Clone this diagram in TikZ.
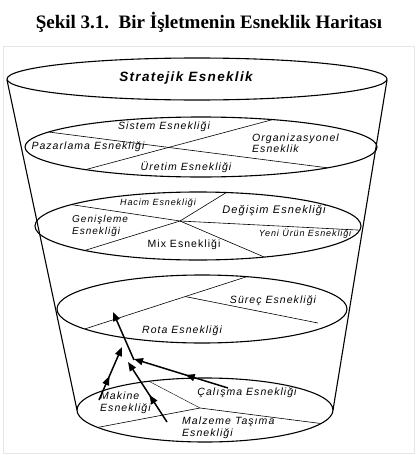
\documentclass[tikz,border=0pt]{standalone}
\usepackage{fontspec}
\setmainfont{Liberation Serif}
\newfontfamily\lblfont[LetterSpace=10]{Liberation Sans}
\usetikzlibrary{calc,arrows.meta,decorations.markings}

\tikzset{
  rim/.style={line width=1.1pt},
  cut/.style={line width=0.6pt},
  lbl/.style={font=\lblfont\itshape\fontsize{10.5}{11.5}\selectfont, inner sep=0pt},
  small/.style={lbl, font=\lblfont\itshape\fontsize{9}{10}\selectfont},
  flow/.style={line width=1.5pt, -{Triangle[length=9pt,width=7pt]}},
  midflow/.style={postaction={decorate}, decoration={markings,
      mark=at position #1 with {\arrow{Triangle[length=9pt,width=7pt]}}}}
}

\begin{document}
\begin{tikzpicture}[x=1pt,y=-1pt]
\useasboundingbox (0,0) rectangle (418,455);
\draw[black!10] (3,46) rectangle (414,453);

\node[font=\bfseries\fontsize{19}{21}\selectfont] (title) at (209,22) {Şekil 3.1.\ \ Bir İşletmenin Esneklik Haritası};

% levels of the cup
\coordinate (e1) at (197,79);
\coordinate (e2) at (201,147);
\coordinate (e3) at (198,226);
\coordinate (e4) at (202,309);
\coordinate (e5) at (205,410);

\draw[rim] (e1) ellipse [x radius=190pt, y radius=21pt];
\draw[rim] (e2) ellipse [x radius=176pt, y radius=30pt];
\draw[rim] (e3) ellipse [x radius=163pt, y radius=34pt];
\draw[rim] (e4) ellipse [x radius=145pt, y radius=34pt];
\draw[rim] (e5) ellipse [x radius=128pt, y radius=32pt];

% sides
\draw[rim] (7,80) -- (77,410);
\draw[rim] (387,80) -- (333,410);

% level 2
\draw[cut] ($(e2)+(150:176pt and 30pt)$) -- ($(e2)+(-44:176pt and 30pt)$);
\draw[cut] ($(e2)+(66:176pt and 30pt)$) -- ($(e2)+(-131:176pt and 30pt)$);

% level 3
\coordinate (x3) at (180,221);
\draw[cut] ($(e3)+(141:163pt and 34pt)$) -- (x3) -- ($(e3)+(-7:163pt and 34pt)$);
\draw[cut] ($(e3)+(80:163pt and 34pt)$) -- (x3) -- ($(e3)+(-134:163pt and 34pt)$);
\draw[cut] (x3) -- ($(e3)+(-66:163pt and 34pt)$);

% level 4
\coordinate (a4) at ($(e4)+(-144:145pt and 34pt)$);
\coordinate (b4) at ($(e4)+(72:145pt and 34pt)$);
\draw[cut] (a4) -- (b4);
\draw[cut] ($(a4)!0.62!(b4)$) -- (318,323);

% level 5
\coordinate (x5) at (200,408);
\draw[cut] ($(e5)+(-147:128pt and 32pt)$) -- (x5) -- ($(e5)+(-25:128pt and 32pt)$);
\draw[line width=0.4pt] (x5) -- ($(e5)+(116:128pt and 32pt)$);

% labels
\node[lbl, font=\lblfont\itshape\bfseries\fontsize{13.5}{15}\selectfont] (strat) at (186,78) {Stratejik Esneklik};
\node[lbl] (sistem) at (164,127) {Sistem Esnekliği};
\node[lbl] (pazar) at (88,147) {Pazarlama Esnekliği};
\node[lbl, anchor=west, align=left] (org) at (252,143) {Organizasyonel\\Esneklik};
\node[lbl] (uretim) at (186,167) {Üretim Esnekliği};

\node[small] (hacim) at (158,203) {Hacim Esnekliği};
\node[lbl, font=\lblfont\itshape\fontsize{11}{12}\selectfont] (degisim) at (274,211) {Değişim Esnekliği};
\node[lbl, font=\lblfont\itshape\fontsize{10}{11.5}\selectfont, anchor=west, align=left] (genis) at (72,226) {Genişleme\\Esnekliği};
\node[small] (yeni) at (305,234) {Yeni Ürün Esnekliği};
\node[lbl, font=\lblfont\fontsize{10.5}{11.5}\selectfont] (mix) at (184,245) {Mix Esnekliği};

\node[lbl] (surec) at (273,301) {Süreç Esnekliği};
\node[lbl] (rota) at (182,331) {Rota Esnekliği};

\node[lbl, anchor=west, align=left] (makine) at (100,403) {Makine\\Esnekliği};
\node[lbl] (calisma) at (247,393) {Çalışma Esnekliği};
\node[lbl, anchor=west, align=left] (malzeme) at (182,428) {Malzeme Taşıma\\Esnekliği};

% flows
\coordinate (m0) at (99,400);
\coordinate (m1) at (122,347);
\coordinate (z0) at (167,422);
\coordinate (z1) at (128,362);
\coordinate (c0) at (228,388);
\coordinate (c1) at (134,359);
\coordinate (r0) at (134,360);
\coordinate (r1) at (113,312);

\draw[flow, midflow=0.45] (m0) -- (m1);
\draw[flow, midflow=0.45] (z0) -- (z1);
\draw[flow, midflow=0.45] (c0) -- (c1);
\draw[flow] (r0) -- (r1);
\end{tikzpicture}
\end{document}
